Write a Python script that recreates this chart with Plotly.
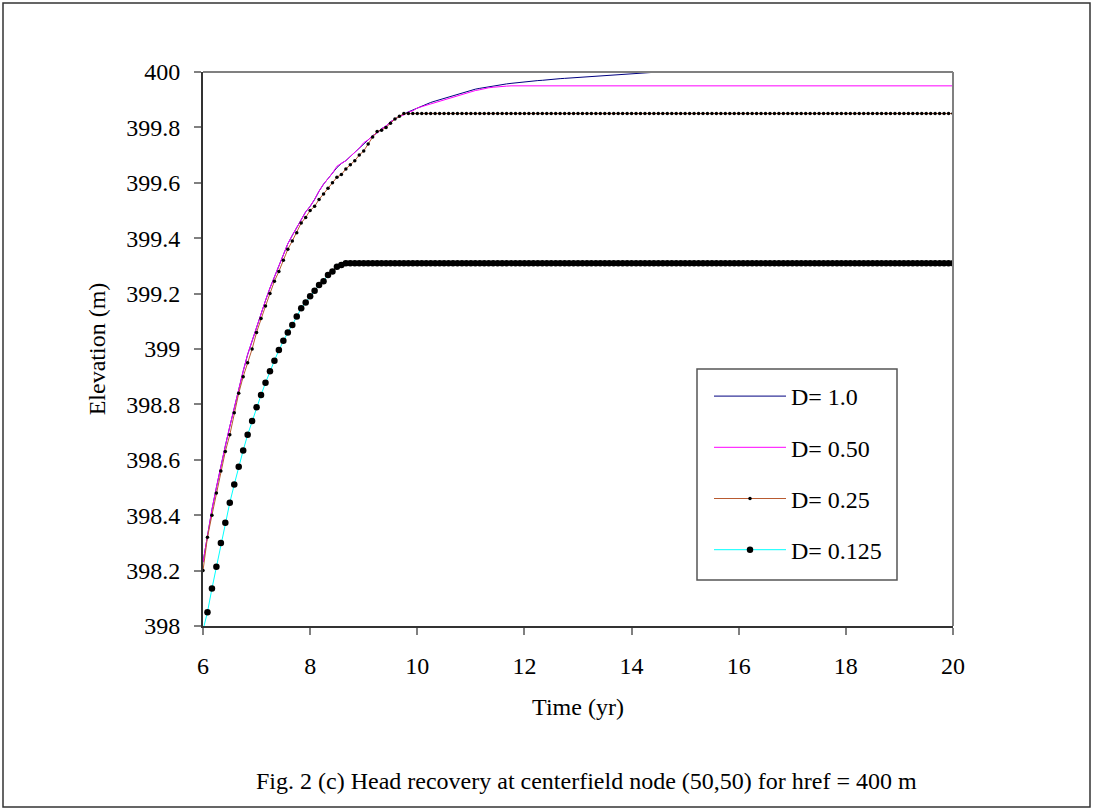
import plotly.graph_objects as go

# Time axis: monthly steps from 6 to 20 yr
n_steps = 169
time_yr = [6 + k / 12 for k in range(n_steps)]

# D = 0.125 (markers at every month)
d0125 = [
    397.985, 398.05, 398.135, 398.214, 398.30, 398.373, 398.445, 398.511, 398.575, 398.634,
    398.69, 398.74, 398.79, 398.834, 398.878, 398.92, 398.958, 398.996, 399.03, 399.06,
    399.087, 399.117, 399.147, 399.168, 399.19, 399.21, 399.231, 399.245, 399.267, 399.28,
    399.297, 399.303, 399.31, 399.31, 399.31, 399.31, 399.31, 399.31, 399.31, 399.31,
    399.31, 399.31, 399.31, 399.31, 399.31, 399.31, 399.31, 399.31, 399.31, 399.31,
    399.31, 399.31, 399.31, 399.31, 399.31, 399.31, 399.31, 399.31, 399.31, 399.31,
    399.31, 399.31, 399.31, 399.31, 399.31, 399.31, 399.31, 399.31, 399.31, 399.31,
    399.31, 399.31, 399.31, 399.31, 399.31, 399.31, 399.31, 399.31, 399.31, 399.31,
    399.31, 399.31, 399.31, 399.31, 399.31, 399.31, 399.31, 399.31, 399.31, 399.31,
    399.31, 399.31, 399.31, 399.31, 399.31, 399.31, 399.31, 399.31, 399.31, 399.31,
    399.31, 399.31, 399.31, 399.31, 399.31, 399.31, 399.31, 399.31, 399.31, 399.31,
    399.31, 399.31, 399.31, 399.31, 399.31, 399.31, 399.31, 399.31, 399.31, 399.31,
    399.31, 399.31, 399.31, 399.31, 399.31, 399.31, 399.31, 399.31, 399.31, 399.31,
    399.31, 399.31, 399.31, 399.31, 399.31, 399.31, 399.31, 399.31, 399.31, 399.31,
    399.31, 399.31, 399.31, 399.31, 399.31, 399.31, 399.31, 399.31, 399.31, 399.31,
    399.31, 399.31, 399.31, 399.31, 399.31, 399.31, 399.31, 399.31, 399.31, 399.31,
    399.31, 399.31, 399.31, 399.31, 399.31, 399.31, 399.31, 399.31, 399.31,
]

# D = 0.25 (small markers at every month)
d025 = [
    398.20, 398.32, 398.40, 398.48, 398.56, 398.63, 398.69, 398.77, 398.84, 398.90,
    398.95, 399.00, 399.06, 399.11, 399.155, 399.20, 399.245, 399.28, 399.32, 399.36,
    399.39, 399.42, 399.455, 399.475, 399.50, 399.515, 399.54, 399.56, 399.58, 399.60,
    399.62, 399.63, 399.65, 399.665, 399.68, 399.70, 399.715, 399.74, 399.765, 399.785,
    399.79, 399.80, 399.815, 399.83, 399.84, 399.85, 399.85, 399.85, 399.85, 399.85,
    399.85, 399.85, 399.85, 399.85, 399.85, 399.85, 399.85, 399.85, 399.85, 399.85,
    399.85, 399.85, 399.85, 399.85, 399.85, 399.85, 399.85, 399.85, 399.85, 399.85,
    399.85, 399.85, 399.85, 399.85, 399.85, 399.85, 399.85, 399.85, 399.85, 399.85,
    399.85, 399.85, 399.85, 399.85, 399.85, 399.85, 399.85, 399.85, 399.85, 399.85,
    399.85, 399.85, 399.85, 399.85, 399.85, 399.85, 399.85, 399.85, 399.85, 399.85,
    399.85, 399.85, 399.85, 399.85, 399.85, 399.85, 399.85, 399.85, 399.85, 399.85,
    399.85, 399.85, 399.85, 399.85, 399.85, 399.85, 399.85, 399.85, 399.85, 399.85,
    399.85, 399.85, 399.85, 399.85, 399.85, 399.85, 399.85, 399.85, 399.85, 399.85,
    399.85, 399.85, 399.85, 399.85, 399.85, 399.85, 399.85, 399.85, 399.85, 399.85,
    399.85, 399.85, 399.85, 399.85, 399.85, 399.85, 399.85, 399.85, 399.85, 399.85,
    399.85, 399.85, 399.85, 399.85, 399.85, 399.85, 399.85, 399.85, 399.85, 399.85,
    399.85, 399.85, 399.85, 399.85, 399.85, 399.85, 399.85, 399.85, 399.85,
]

# D = 0.50 (line only): monthly values until the plateau, then the end of the record
d050_time = [6 + k / 12 for k in range(70)] + [20.0]
d050 = [
    398.23, 398.33, 398.42, 398.50, 398.58, 398.65, 398.72, 398.79, 398.86, 398.92,
    398.98, 399.03, 399.08, 399.13, 399.175, 399.22, 399.26, 399.30, 399.34, 399.38,
    399.41, 399.44, 399.47, 399.495, 399.515, 399.54, 399.57, 399.595, 399.615, 399.635,
    399.66, 399.67, 399.68, 399.695, 399.71, 399.725, 399.745, 399.755, 399.77, 399.78,
    399.795, 399.805, 399.82, 399.83, 399.84, 399.845, 399.855, 399.86, 399.87, 399.875,
    399.88, 399.885, 399.89, 399.895, 399.90, 399.905, 399.91, 399.915, 399.92, 399.925,
    399.93, 399.933, 399.936, 399.94, 399.943, 399.945, 399.947, 399.948, 399.949, 399.95,
    399.95,
]

# D = 1.0 (line only)
d100_time = [6 + k / 12 for k in range(103)] + [20.0]
d100 = [
    398.23, 398.33, 398.42, 398.50, 398.58, 398.65, 398.72, 398.79, 398.86, 398.92,
    398.98, 399.03, 399.08, 399.13, 399.175, 399.22, 399.26, 399.30, 399.34, 399.38,
    399.41, 399.44, 399.47, 399.495, 399.515, 399.54, 399.57, 399.595, 399.615, 399.635,
    399.655, 399.67, 399.68, 399.695, 399.71, 399.725, 399.742, 399.755, 399.77, 399.78,
    399.795, 399.805, 399.82, 399.83, 399.84, 399.848, 399.856, 399.863, 399.87, 399.877,
    399.883, 399.89, 399.895, 399.90, 399.905, 399.91, 399.915, 399.92, 399.925, 399.93,
    399.935, 399.938, 399.941, 399.944, 399.947, 399.95, 399.953, 399.955, 399.957, 399.959,
    399.961, 399.963, 399.965, 399.966, 399.967, 399.969, 399.97, 399.972, 399.974, 399.975,
    399.976, 399.977, 399.978, 399.979, 399.98, 399.981, 399.982, 399.983, 399.984, 399.985,
    399.986, 399.987, 399.988, 399.99, 399.991, 399.993, 399.994, 399.995, 399.996, 399.997,
    399.998, 399.999, 400.0,
    400.0,
]

series_names = ["D= 1.0", "D= 0.50", "D= 0.25", "D= 0.125"]
x_ticks = [6, 8, 10, 12, 14, 16, 18, 20]
y_ticks = [398, 398.2, 398.4, 398.6, 398.8, 399, 399.2, 399.4, 399.6, 399.8, 400]
y_ticktext = ["398", "398.2", "398.4", "398.6", "398.8", "399", "399.2", "399.4", "399.6", "399.8", "400"]

FONT = "Liberation Serif, Times New Roman, serif"
FS = 24

fig = go.Figure()
fig.add_trace(go.Scatter(x=d100_time, y=d100, name=series_names[0], mode="lines",
                         line=dict(color="#000080", width=1), legendgroup="a"))
fig.add_trace(go.Scatter(x=d050_time, y=d050, name=series_names[1], mode="lines",
                         line=dict(color="#FF00FF", width=1), legendgroup="b"))
fig.add_trace(go.Scatter(x=time_yr, y=d025, name=series_names[2], mode="lines+markers",
                         line=dict(color="#B85A30", width=1),
                         marker=dict(color="black", size=3.5), legendgroup="c"))
fig.add_trace(go.Scatter(x=time_yr, y=d0125, name=series_names[3], mode="lines+markers",
                         line=dict(color="#00FFFF", width=1),
                         marker=dict(color="black", size=6.5), legendgroup="d"))

# plot area geometry (pixels)
L, R, T, B = 203, 953, 72, 626
W, H = 1093, 811

def px_x(p):
    return (p - L) / (R - L)

def px_y(p):
    return (B - p) / (B - T)

fig.update_layout(
    width=W, height=H,
    margin=dict(l=L, r=W - R, t=T, b=H - B, pad=0),
    paper_bgcolor="white", plot_bgcolor="white",
    font=dict(family=FONT, size=FS, color="black"),
    showlegend=True,
    legend=dict(
        x=px_x(709), y=px_y(374), xanchor="left", yanchor="top",
        bgcolor="rgba(0,0,0,0)", borderwidth=0,
        font=dict(family=FONT, size=FS, color="black"),
        tracegroupgap=17, itemwidth=72,
    ),
    xaxis=dict(
        range=[6, 20], tickvals=x_ticks, ticktext=[str(v) for v in x_ticks],
        showgrid=False, zeroline=False,
        showline=True, linecolor="#333333", linewidth=2,
        ticks="outside", ticklen=7, tickwidth=2, tickcolor="#808080",
        ticklabelstandoff=10,
        tickfont=dict(family=FONT, size=FS),
        title=dict(text="Time (yr)", font=dict(family=FONT, size=FS), standoff=20),
    ),
    yaxis=dict(
        range=[398, 400], tickvals=y_ticks, ticktext=y_ticktext,
        showgrid=False, zeroline=False,
        showline=True, linecolor="#333333", linewidth=2,
        ticks="outside", ticklen=7, tickwidth=2, tickcolor="#808080",
        ticklabelstandoff=9,
        tickfont=dict(family=FONT, size=FS),
        title=dict(text="Elevation (m)", font=dict(family=FONT, size=FS), standoff=14),
    ),
    shapes=[
        # top and right border of plot area
        dict(type="line", xref="paper", yref="paper", x0=0, x1=1, y0=1, y1=1,
             line=dict(color="#808080", width=2)),
        dict(type="line", xref="paper", yref="paper", x0=1, x1=1, y0=0, y1=1,
             line=dict(color="#808080", width=2)),
        # legend box
        dict(type="rect", xref="paper", yref="paper",
             x0=px_x(697), x1=px_x(897), y0=px_y(580), y1=px_y(369),
             line=dict(color="#555555", width=1.5), fillcolor="white", layer="above"),
        # outer frame
        dict(type="rect", xref="paper", yref="paper",
             x0=px_x(3), x1=px_x(1090), y0=px_y(807), y1=px_y(3),
             line=dict(color="#333333", width=1.5), layer="below"),
    ],
    annotations=[
        dict(text="Fig. 2 (c) Head recovery at centerfield node (50,50) for href = 400 m",
             xref="paper", yref="paper", x=px_x(586), y=px_y(781),
             xanchor="center", yanchor="middle", showarrow=False,
             font=dict(family=FONT, size=FS, color="black")),
    ],
)

fig.write_html("out.html")
